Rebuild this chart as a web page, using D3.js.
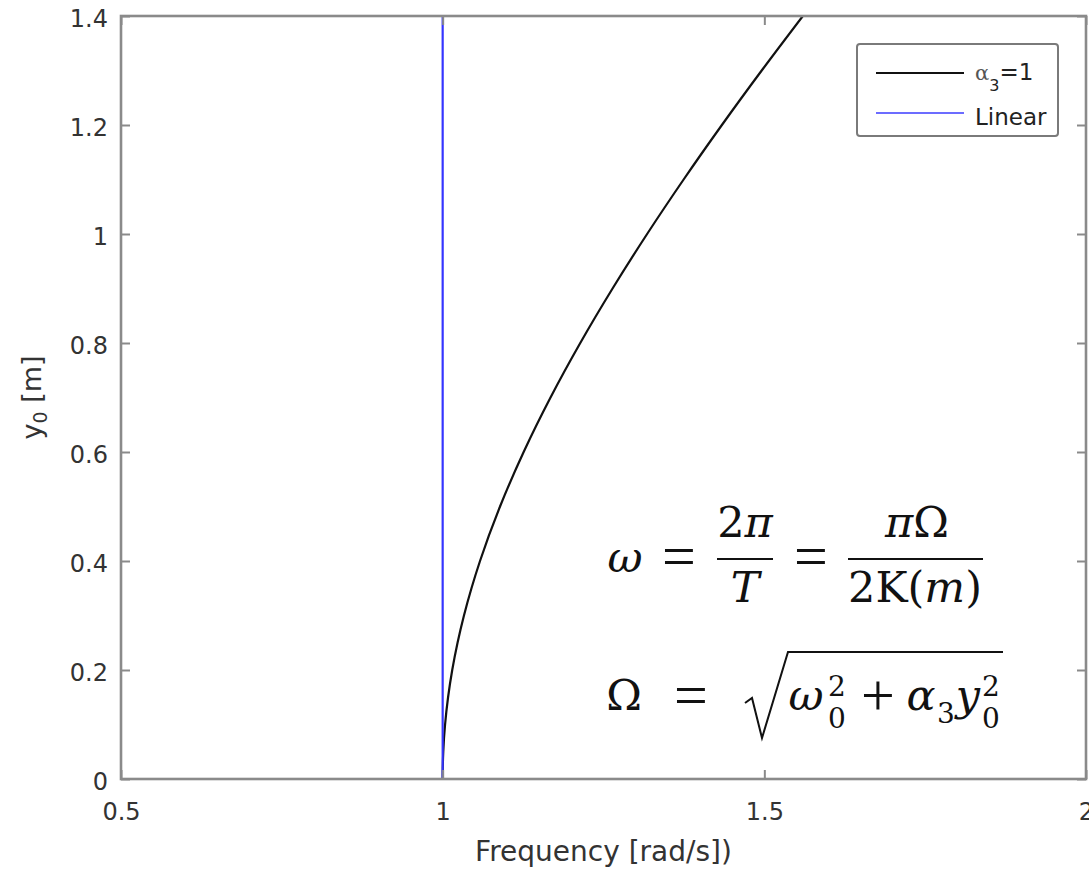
<!DOCTYPE html>
<html>
<head>
<meta charset="utf-8">
<script src="https://cdn.jsdelivr.net/npm/d3@7/dist/d3.min.js"></script>
<style>
  html, body { margin: 0; padding: 0; background: #fff; }
  svg { display: block; }
</style>
</head>
<body>
<svg id="chart" width="1089" height="869"></svg>
<script>
// Backbone curve of the cubic oscillator (alpha_3 = 1): amplitude y0 vs. frequency
const backboneY0   = [0, 0.02, 0.05, 0.1, 0.15, 0.2, 0.25, 0.3, 0.35, 0.4, 0.5, 0.6, 0.7, 0.8, 0.9, 1.0, 1.1, 1.2, 1.3, 1.4];
const backboneFreq = [1.0, 1.00015, 1.00094, 1.00374, 1.0084, 1.01487, 1.02313, 1.03311, 1.04478, 1.05805,
                      1.08916, 1.12588, 1.16764, 1.21388, 1.26408, 1.31778, 1.37455, 1.43403, 1.4959, 1.55987];

// Linear system: frequency independent of amplitude
const linearY0   = [0, 1.4];
const linearFreq = [1, 1];

const seriesNames = ["α3=1", "Linear"];

const xTickValues = [0.5, 1, 1.5, 2];
const xTickLabels = ["0.5", "1", "1.5", "2"];
const yTickValues = [0, 0.2, 0.4, 0.6, 0.8, 1.0, 1.2, 1.4];
const yTickLabels = ["0", "0.2", "0.4", "0.6", "0.8", "1", "1.2", "1.4"];

const svg = d3.select("#chart");
const plotL = 121, plotR = 1086, plotT = 16, plotB = 779;

const x = d3.scaleLinear().domain([0.5, 2]).range([plotL, plotR]);
const y = d3.scaleLinear().domain([0, 1.4]).range([plotB, plotT]);

const axisColor = "#8a8a8a";
const textColor = "#333";
const sans = "'DejaVu Sans', sans-serif";
const serif = "'DejaVu Serif', serif";
const thinSerif = "'Liberation Serif', serif";

// clip region for the plotted data
svg.append("defs").append("clipPath").attr("id", "plotClip")
  .append("rect").attr("x", plotL).attr("y", plotT)
  .attr("width", plotR - plotL).attr("height", plotB - plotT);

// data lines
const plot = svg.append("g").attr("clip-path", "url(#plotClip)");
const backbone = backboneY0.map((v, i) => [backboneFreq[i], v]);
const linear = linearY0.map((v, i) => [linearFreq[i], v]);

const lineGen = d3.line().x(d => x(d[0])).y(d => y(d[1])).curve(d3.curveMonotoneY);

plot.append("path").datum(backbone)
  .attr("d", lineGen).attr("fill", "none")
  .attr("stroke", "#111").attr("stroke-width", 2.2);

plot.append("path").datum(linear)
  .attr("d", d3.line().x(d => x(d[0])).y(d => y(d[1])))
  .attr("fill", "none").attr("stroke", "#3535ff").attr("stroke-width", 2.2);

// axes with inward ticks on all four sides
function styleAxis(g) {
  g.select(".domain").remove();
  g.selectAll(".tick line").attr("stroke", axisColor).attr("stroke-width", 2);
  g.selectAll(".tick text").attr("fill", textColor).style("font-family", sans).style("font-size", "24px");
}

svg.append("g").attr("transform", `translate(0,${plotB})`)
  .call(d3.axisBottom(x).tickValues(xTickValues).tickSize(-9).tickPadding(24)
    .tickFormat((d, i) => xTickLabels[i]))
  .call(styleAxis);

svg.append("g").attr("transform", `translate(0,${plotT})`)
  .call(d3.axisTop(x).tickValues(xTickValues).tickSize(-9).tickFormat(""))
  .call(styleAxis);

const yAxisG = svg.append("g").attr("transform", `translate(${plotL},0)`)
  .call(d3.axisLeft(y).tickValues(yTickValues).tickSize(-9).tickPadding(13)
    .tickFormat((d, i) => yTickLabels[i]))
  .call(styleAxis);
yAxisG.selectAll(".tick text").attr("dy", "0.42em");

svg.append("g").attr("transform", `translate(${plotR},0)`)
  .call(d3.axisRight(y).tickValues(yTickValues).tickSize(-9).tickFormat(""))
  .call(styleAxis);

// axes box
svg.append("rect").attr("x", plotL).attr("y", plotT)
  .attr("width", plotR - plotL).attr("height", plotB - plotT)
  .attr("fill", "none").attr("stroke", axisColor).attr("stroke-width", 2.6);

// axis labels
svg.append("text").attr("x", (plotL + plotR) / 2).attr("y", 861)
  .attr("text-anchor", "middle").attr("fill", textColor)
  .style("font-family", sans).style("font-size", "28px")
  .text("Frequency [rad/s])");

const yl = svg.append("text")
  .attr("transform", `translate(41,${(plotT + plotB) / 2}) rotate(-90)`)
  .attr("text-anchor", "middle").attr("fill", textColor)
  .style("font-family", sans).style("font-size", "27px");
yl.append("tspan").text("y");
yl.append("tspan").attr("dy", 6).style("font-size", "19px").text("0");
yl.append("tspan").attr("dy", -6).text(" [m]");

// legend
const lg = svg.append("g");
lg.append("rect").attr("x", 857).attr("y", 44).attr("width", 201).attr("height", 92)
  .attr("rx", 3).attr("fill", "#fff").attr("stroke", "#7a7a7a").attr("stroke-width", 2);
const legendColors = ["#111", "#6c6cff"];
const legendRowY = [73, 113];
seriesNames.forEach((name, i) => {
  lg.append("line").attr("x1", 876).attr("x2", 964)
    .attr("y1", legendRowY[i]).attr("y2", legendRowY[i])
    .attr("stroke", legendColors[i]).attr("stroke-width", 2);
});
const l1 = lg.append("text").attr("x", 975).attr("y", 80).attr("fill", "#222")
  .style("font-family", sans).style("font-size", "23px");
l1.append("tspan").style("font-family", serif).style("font-size", "21px").attr("fill", "#555").text("α");
l1.append("tspan").attr("dy", 11).style("font-size", "16px").text("3");
l1.append("tspan").attr("dy", -11).text("=1");
lg.append("text").attr("x", 975).attr("y", 125).attr("fill", "#222")
  .style("font-family", sans).style("font-size", "23px").text(seriesNames[1]);

// formula annotation
const eq = svg.append("g").attr("fill", "#111").style("font-family", serif);
const FS = 43, SS = 28;
function put(x0, y0, parts, size) {
  const t = eq.append("text").attr("x", x0).attr("y", y0)
    .attr("text-anchor", "middle").style("font-size", (size || FS) + "px");
  parts.forEach(p => {
    t.append("tspan").style("font-style", p[1] ? "italic" : "normal").text(p[0]);
  });
  return t;
}
// wide, thin relation / operator sign
function putOp(x0, y0, sym) {
  eq.append("text").attr("x", x0).attr("y", y0)
    .attr("text-anchor", "middle").style("font-family", thinSerif)
    .style("font-size", "60px").text(sym);
}
// stacked superscript / subscript pair on one symbol
function putScripts(x0, supY, subY, sup, sub) {
  const t = eq.append("text").attr("text-anchor", "middle").style("font-size", SS + "px");
  t.append("tspan").attr("x", x0).attr("y", supY).text(sup);
  t.append("tspan").attr("x", x0).attr("y", subY).text(sub);
}
function bar(x1, x2, yy) {
  eq.append("line").attr("x1", x1).attr("x2", x2).attr("y1", yy).attr("y2", yy)
    .attr("stroke", "#111").attr("stroke-width", 2);
}

// ω = 2π/T = πΩ/(2K(m))
put(625, 572, [["ω", true]]);
putOp(679, 576, "=");
bar(717, 773, 559);
put(745, 537, [["2", false], ["π", true]]);
put(745, 602, [["T", true]]);
putOp(811, 576, "=");
bar(848, 983, 559);
put(917, 537, [["π", true], ["Ω", false]]);
put(915, 602, [["2K(", false], ["m", true], [")", false]]);

// Ω = sqrt(ω0² + α3 y0²)
put(624, 710, [["Ω", false]]);
putOp(691, 715, "=");
eq.append("path")
  .attr("d", "M745,703 L752,698 L762,738 L788,652 L1003,652")
  .attr("fill", "none").attr("stroke", "#111").attr("stroke-width", 2)
  .attr("stroke-linejoin", "miter");
put(806, 710, [["ω", true]]);
putScripts(837, 696, 728, "2", "0");
putOp(878, 715, "+");
put(921, 710, [["α", true]]);
put(946, 723, [["3", false]], SS);
put(968, 710, [["y", true]]);
putScripts(991, 696, 728, "2", "0");
</script>
</body>
</html>
